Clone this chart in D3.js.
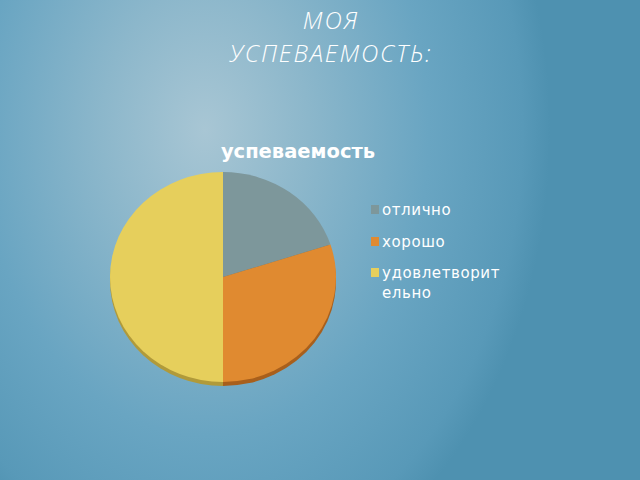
<!DOCTYPE html>
<html>
<head>
<meta charset="utf-8">
<script src="https://cdn.jsdelivr.net/npm/d3@7"></script>
<style>
  html, body { margin: 0; padding: 0; }
  body { width: 640px; height: 480px; overflow: hidden; }
</style>
</head>
<body>
<svg id="chart" width="640" height="480"></svg>
<script>
const pageTitle = ["МОЯ", "УСПЕВАЕМОСТЬ:"];
const chartTitle = "успеваемость";
const categories = ["отлично", "хорошо", "удовлетворительно"];
const legendLines = [["отлично"], ["хорошо"], ["удовлетворит", "ельно"]];
const values = [20, 30, 50];
const colors = ["#7d979b", "#e08a30", "#e6cf5c"];
const rimColors = ["#5f7579", "#a85f1c", "#b09a3a"];

const svg = d3.select("#chart");
const defs = svg.append("defs");
const grad = defs.append("radialGradient")
  .attr("id", "bg").attr("gradientUnits", "userSpaceOnUse")
  .attr("cx", 0).attr("cy", 0).attr("r", 1)
  .attr("gradientTransform", "translate(205,130) scale(345,470)");
grad.append("stop").attr("offset", "0").attr("stop-color", "#a8c6d4");
grad.append("stop").attr("offset", "0.3").attr("stop-color", "#8cb7cb");
grad.append("stop").attr("offset", "0.65").attr("stop-color", "#69a5c2");
grad.append("stop").attr("offset", "0.92").attr("stop-color", "#5899b8");
grad.append("stop").attr("offset", "1").attr("stop-color", "#4e91b0");
svg.append("rect").attr("width", 640).attr("height", 480).attr("fill", "url(#bg)");

// page title (two lines)
svg.append("text")
  .attr("x", 331).attr("y", 29)
  .attr("text-anchor", "middle")
  .attr("font-family", "'Open Sans', sans-serif")
  .attr("font-style", "italic")
  .attr("font-weight", 300)
  .attr("font-size", 24)
  .attr("letter-spacing", 1.9)
  .attr("fill", "#ffffff")
  .selectAll("tspan").data(pageTitle).join("tspan")
  .attr("x", 331).attr("dy", (d, i) => i === 0 ? 0 : 33)
  .text(d => d);

// chart title
svg.append("text")
  .attr("x", 298).attr("y", 158)
  .attr("text-anchor", "middle")
  .attr("font-family", "'DejaVu Sans', sans-serif")
  .attr("font-weight", "bold")
  .attr("font-size", 19.5)
  .attr("fill", "#ffffff")
  .text(chartTitle);

// pie
const cx = 223, cy = 277, rx = 113, ry = 105;
const pie = d3.pie().sort(null).value(d => d);
const arcs = pie(values);
const arc = d3.arc().innerRadius(0).outerRadius(1);

const rim = svg.append("g").attr("transform", `translate(${cx},${cy + 4}) scale(${rx},${ry})`);
rim.selectAll("path").data(arcs).join("path")
  .attr("d", arc).attr("fill", (d, i) => rimColors[i]);

const face = svg.append("g").attr("transform", `translate(${cx},${cy}) scale(${rx},${ry})`);
face.selectAll("path").data(arcs).join("path")
  .attr("d", arc).attr("fill", (d, i) => colors[i]);

// legend
const legendY = [210, 242, 273];
const lg = svg.append("g");
categories.forEach((c, i) => {
  lg.append("rect").attr("x", 371).attr("y", legendY[i] - 5)
    .attr("width", 8).attr("height", 9).attr("fill", colors[i]);
  lg.append("text")
    .attr("x", 382).attr("y", legendY[i] + 5)
    .attr("font-family", "'DejaVu Sans', sans-serif")
    .attr("font-size", 15)
    .attr("letter-spacing", 0.6)
    .attr("fill", "#ffffff")
    .selectAll("tspan").data(legendLines[i]).join("tspan")
    .attr("x", 382).attr("dy", (d, j) => j === 0 ? 0 : 20)
    .text(d => d);
});
</script>
</body>
</html>
